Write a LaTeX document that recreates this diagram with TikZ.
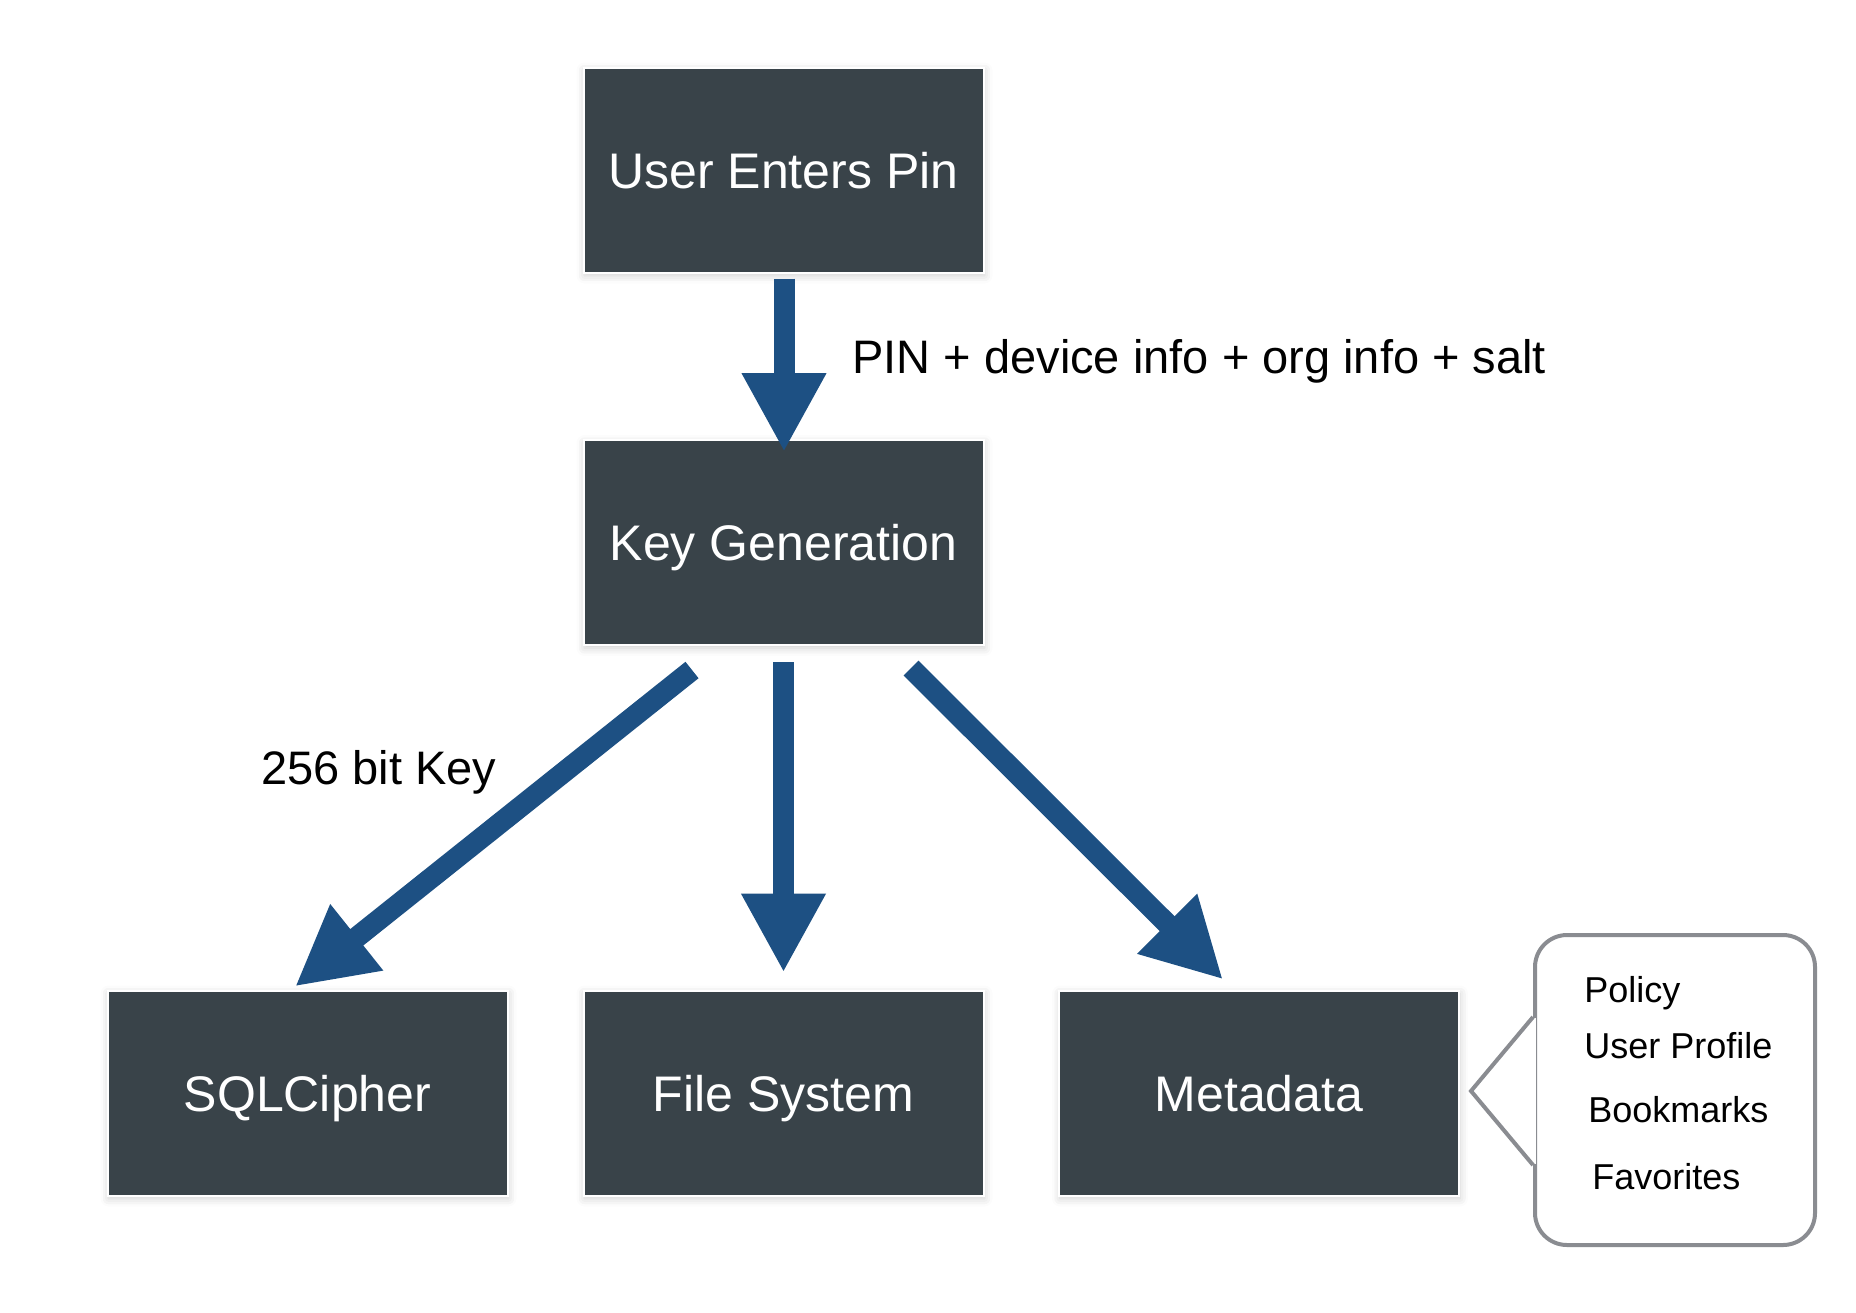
\documentclass[tikz,border=0pt]{standalone}
\usepackage{fontspec}
\setmainfont{Liberation Sans}
\usetikzlibrary{arrows.meta,calc,shadows.blur}

\definecolor{boxgray}{RGB}{57,67,73}
\definecolor{keyblue}{RGB}{29,80,131}
\definecolor{notegray}{RGB}{138,140,145}

\begin{document}
\begin{tikzpicture}[x=0.5pt, y=-0.5pt, >={Triangle[width=39.5pt,length=39.5pt]}]

    \tikzstyle{block}=[fill=boxgray, draw=white, line width=1pt, text=white,
        minimum width=200pt, minimum height=102.5pt, inner sep=0pt,
        text height=18pt, text depth=0pt, font=\fontsize{25}{30}\selectfont,
        blur shadow={shadow xshift=0.5pt, shadow yshift=-1.5pt, shadow blur radius=4pt, shadow opacity=20}]
    \tikzstyle{flow}=[->, draw=keyblue, line width=10.5pt]
    \tikzstyle{flowtext}=[anchor=base west, inner sep=0pt, font=\fontsize{23.5}{28}\selectfont]
    \tikzstyle{listitem}=[anchor=base west, inner sep=0pt, font=\fontsize{18}{22}\selectfont]

    \useasboundingbox (0,0) rectangle (1856,1312);

    \node[block] (pin)    at (783.5,170)  {User Enters Pin};
    \node[block] (keygen) at (783.5,542.5) {Key Generation};
    \node[block] (sql)    at (307.5,1093) {SQLCipher};
    \node[block] (fs)     at (783.5,1093) {File System};
    \node[block] (meta)   at (1259,1093)  {Metadata};

    \draw[flow] ($(pin.south)+(0.5,5)$) -- ($(keygen.north)+(0.5,13)$);
    \draw[flow] ($(keygen.south)+(-91.5,24)$) -- ($(sql.north)+(-12.5,-3)$);
    \draw[flow] ($(keygen.south)+(0,16)$) -- ($(fs.north)+(0,-17)$);
    \draw[flow] ($(keygen.south)+(127.5,22)$) -- ($(meta.north)+(-36,-10)$);

    \node[flowtext] (inputs)  at (852,373) {PIN + device info + org info + salt};
    \node[flowtext] (keysize) at (261,784) {256 bit Key};

    % callout next to Metadata
    \node[draw=notegray, line width=2pt, rounded corners=16pt, fill=white,
          minimum width=140pt, minimum height=155pt] (notes) at (1675,1090) {};
    \fill[white] ($(notes.west)+(-3,-72)$) rectangle ($(notes.west)+(3,74)$);
    \coordinate (tip) at ($(notes.west)+(-62,1)$);
    \draw[notegray, line width=2pt] ($(notes.west)+(0,-73)$) -- (tip) -- ($(notes.west)+(0,75)$);

    \node[listitem] (policy)    at (1584,1002) {Policy};
    \node[listitem] (profile)   at (1584,1058) {User Profile};
    \node[listitem] (bookmarks) at (1588,1122) {Bookmarks};
    \node[listitem] (favorites) at (1592,1189) {Favorites};
\end{tikzpicture}
\end{document}
